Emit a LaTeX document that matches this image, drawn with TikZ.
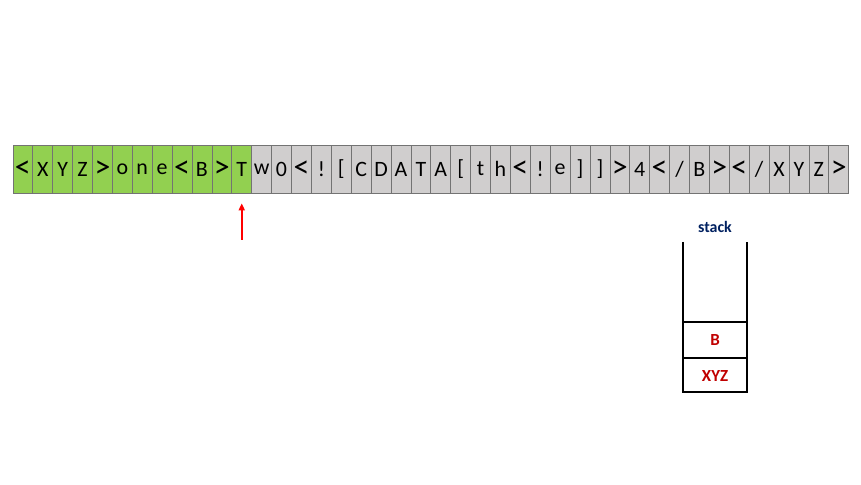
\documentclass[tikz,border=0pt]{standalone}
\usepackage{fontspec}
\setmainfont{Carlito}
\usepackage{xcolor}
\usetikzlibrary{arrows.meta}

\definecolor{cellgreen}{RGB}{146,208,80}
\definecolor{cellgray}{RGB}{208,206,206}
\definecolor{stackred}{RGB}{192,0,0}
\definecolor{stackblue}{RGB}{0,32,96}

\def\ltchar{<}
\def\gtchar{>}

\begin{document}
\begin{tikzpicture}[x=1bp, y=-1bp]
        % ================= 样式定义 =================
        \tikzset{
            cell/.style={rectangle, draw=black!55, line width=0.7bp, minimum width=19.9bp, minimum height=48bp, inner sep=0pt, font=\fontsize{22}{24}\selectfont},
            ptrarrow/.style={red, line width=1.6bp, -{Triangle[length=7bp, width=6bp]}},
            wall/.style={line width=1.8bp, black},
            item/.style={stackred, font=\fontsize{17}{19}\selectfont\bfseries}
        }
        \useasboundingbox (0,0) rectangle (861,485);

        % ================= 字符串 =================
        \foreach \ch [count=\i] in {<,X,Y,Z,>,o,n,e,<,B,>,T,w,0,<,!,[,C,D,A,T,A,[,t,h,<,!,e,],],>,4,<,/,B,>,<,/,X,Y,Z,>}{
            \ifnum\i<13 \def\cellfill{cellgreen}\else\def\cellfill{cellgray}\fi
            % 尖括号放大一点
            \def\glyph{\ch}
            \ifx\ch\ltchar \def\glyph{\scalebox{1.45}{\ch}}\fi
            \ifx\ch\gtchar \def\glyph{\scalebox{1.45}{\ch}}\fi
            \node[cell, fill=\cellfill] (c\i) at ({12.9+19.9*(\i-0.5)},169) {\glyph};
        }

        % 指针
        \coordinate (ptr) at (c12.south |- 0,240);
        \draw[ptrarrow] (ptr) -- ([yshift=-10bp]c12.south);

        % ================= 栈 =================
        \node[stackblue, font=\fontsize{16}{18}\selectfont\bfseries] (stk) at (715,227) {stack};
        \draw[wall] (683,242) -- (683,392) -- (747,392) -- (747,242);
        \draw[wall] (683,322) -- (747,322);
        \draw[wall] (683,358) -- (747,358);
        \node[item] (sB) at (715,340) {B};
        \node[item] (sXYZ) at (715,376) {XYZ};

    \end{tikzpicture}
\end{document}
